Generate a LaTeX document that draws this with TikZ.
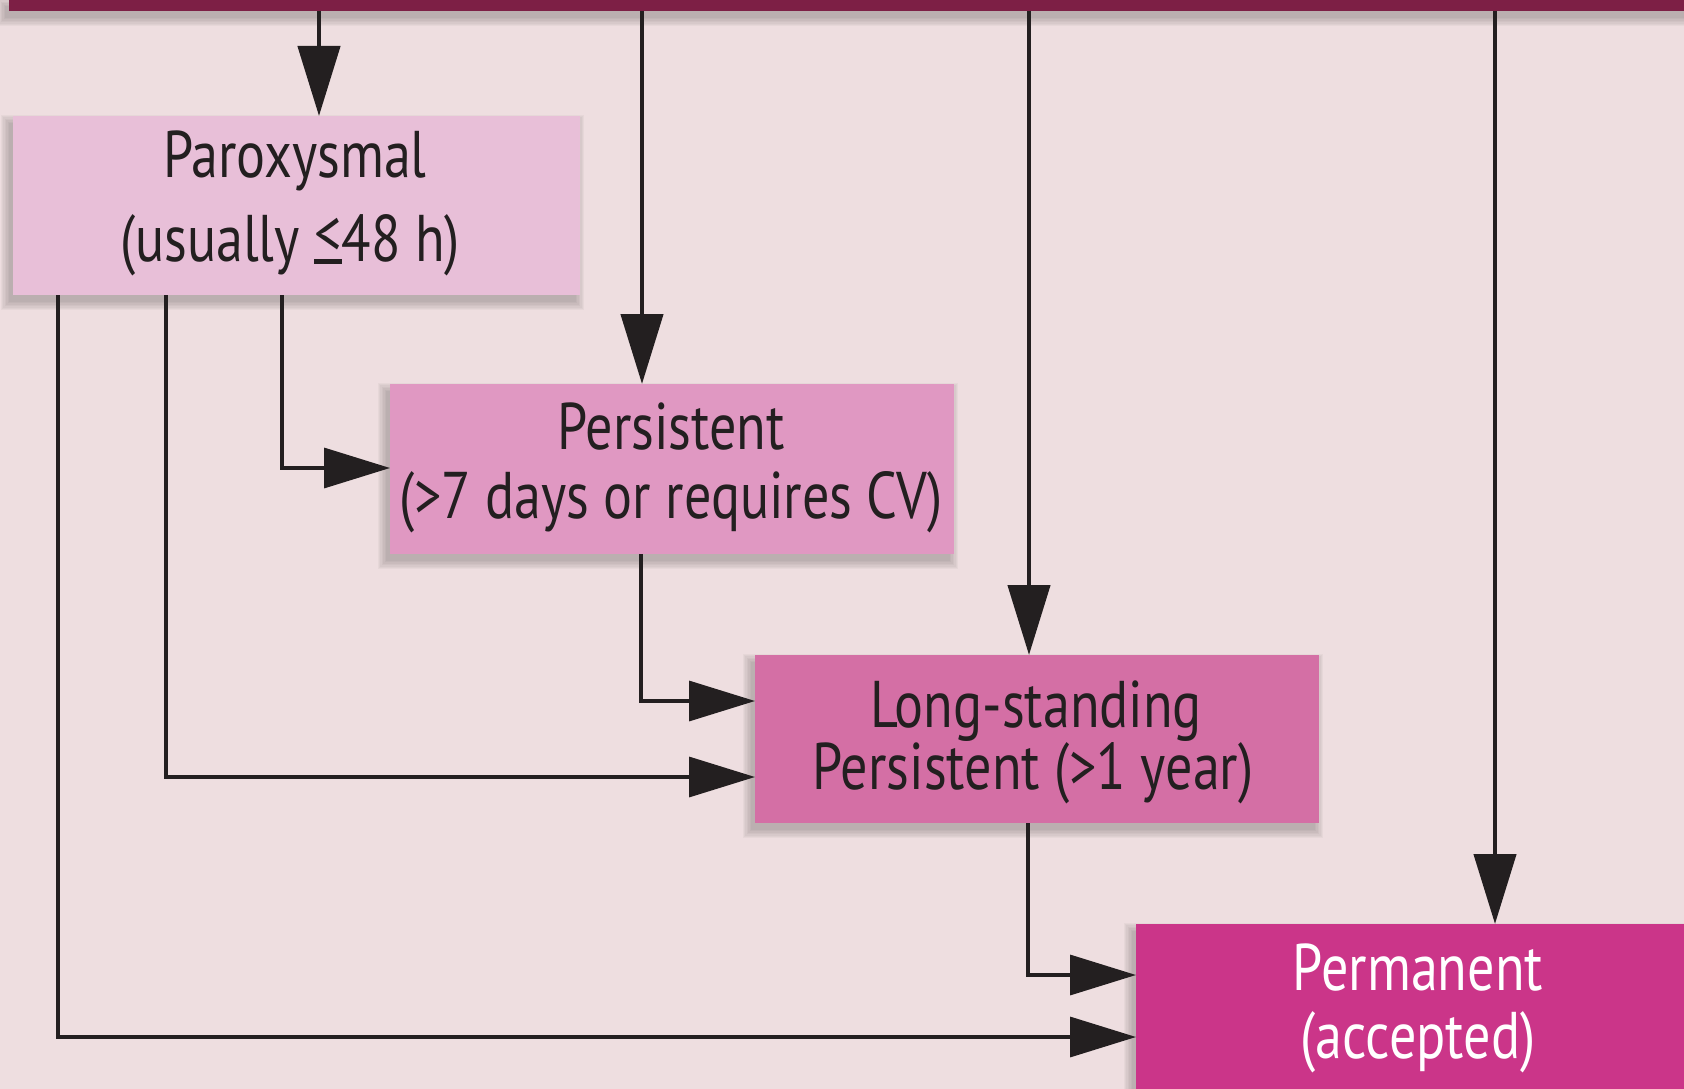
\documentclass[tikz,border=0pt]{standalone}
\usepackage{fontspec}
\setmainfont{PT Sans}[FakeStretch=0.82]
\usetikzlibrary{arrows.meta,calc}
\definecolor{bgc}{RGB}{238,222,224}
\definecolor{barc}{RGB}{125,31,69}
\definecolor{parac}{RGB}{232,191,216}
\definecolor{persc}{RGB}{224,152,194}
\definecolor{longc}{RGB}{212,111,165}
\definecolor{permc}{RGB}{203,53,137}
\definecolor{ink}{RGB}{35,31,32}
\pgfdeclarelayer{back}
\pgfdeclarelayer{shade}
\pgfsetlayers{back,shade,main}
\newsavebox{\ltbox}
\newcommand{\lesseqbar}{\sbox{\ltbox}{\raisebox{0.08em}{<}}\rlap{\rule[-0.04em]{\wd\ltbox}{0.07em}}\usebox{\ltbox}}
\newcommand{\softshade}[1]{%
  \begin{pgfonlayer}{shade}
  \foreach \k in {0,...,6}{
    \fill[black, opacity=0.032]
      ($(#1.north west)+(-4-1.4*\k, 7-1.4*\k)$) rectangle
      ($(#1.south east)+(-4+1.4*\k, 7+1.4*\k)$);
  }
  \end{pgfonlayer}}
\tikzset{
  stagebox/.style={inner sep=0pt, outer sep=0pt, anchor=north west},
  txt/.style={anchor=base, inner sep=0pt, text=ink, font=\fontsize{66}{70}\selectfont},
  wtxt/.style={txt, text=white},
  varrow/.style={draw=ink, line width=4.5pt, -{Triangle[length=70pt,width=42pt]}},
  larrow/.style={draw=ink, line width=3.4pt, -{Triangle[length=66pt,width=40pt]}},
}
\begin{document}
\begin{tikzpicture}[x=1pt,y=-1pt]
\useasboundingbox (0,0) rectangle (1684,1089);
\begin{pgfonlayer}{back}
\fill[bgc] (0,0) rectangle (1684,1089);
\end{pgfonlayer}
% top bar
\node[stagebox, fill=barc, minimum width=1690pt, minimum height=12pt] (bar) at (9,-1) {};
% boxes
\node[stagebox, fill=parac, minimum width=567pt, minimum height=179pt] (para) at (13,116) {};
\node[stagebox, fill=persc, minimum width=564pt, minimum height=170pt] (pers) at (390,384) {};
\node[stagebox, fill=longc, minimum width=564pt, minimum height=168pt] (longs) at (755,655) {};
\node[stagebox, fill=permc, minimum width=560pt, minimum height=200pt] (perm) at (1136,924) {};
\softshade{bar}
\softshade{para}
\softshade{pers}
\softshade{longs}
\softshade{perm}
% texts
\node[txt] (para1) at (295,177) {Paroxysmal};
\node[txt] (para2) at (290,261) {(usually \lesseqbar{}48 h)};
\node[txt] (pers1) at (671,449) {Persistent};
\node[txt] (pers2) at (671,518) {(>7 days or requires CV)};
\node[txt] (long1) at (1036,727) {Long-standing};
\node[txt] (long2) at (1033,789) {Persistent (>1 year)};
\node[wtxt] (perm1) at (1418,990) {Permanent};
\node[wtxt] (perm2) at (1418,1058) {(accepted)};
% vertical arrows from the bar
\draw[varrow] (bar.south -| 319,0) -- (para.north -| 319,0);
\draw[varrow] (bar.south -| 642,0) -- (pers.north -| 642,0);
\draw[varrow] (bar.south -| 1029,0) -- (longs.north -| 1029,0);
\draw[varrow] (bar.south -| 1495,0) -- (perm.north -| 1495,0);
% elbow connectors
\draw[larrow] (para.south -| 282,0) |- (pers.west |- 0,468);
\draw[larrow] (para.south -| 166,0) |- (longs.west |- 0,777);
\draw[larrow] (para.south -| 58,0) |- (perm.west |- 0,1037);
\draw[larrow] (pers.south -| 641,0) |- (longs.west |- 0,701);
\draw[larrow] (longs.south -| 1028,0) |- (perm.west |- 0,975);
\end{tikzpicture}
\end{document}
